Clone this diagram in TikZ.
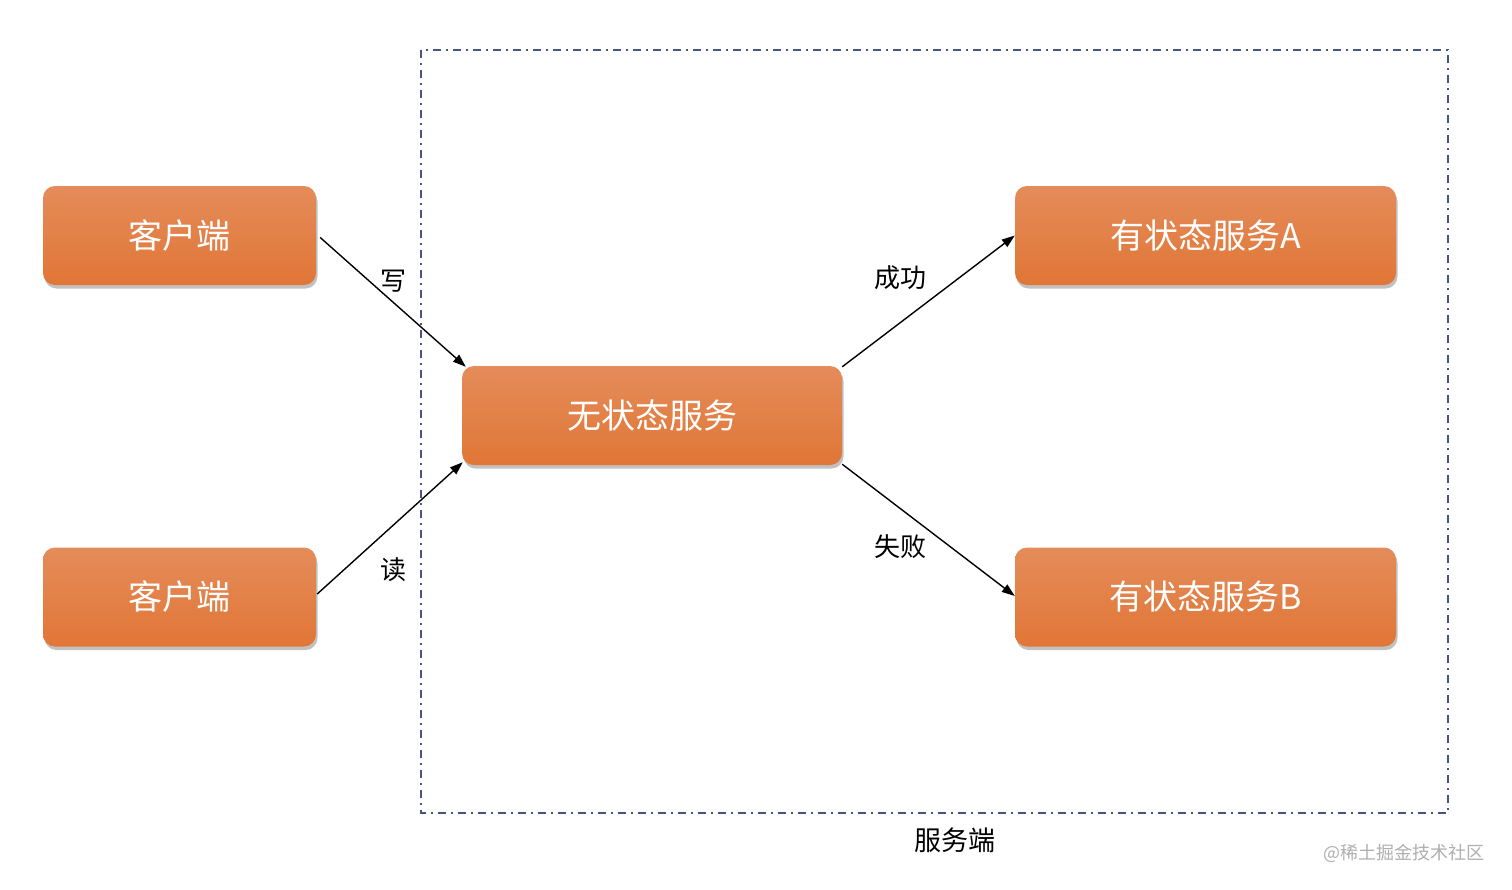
\documentclass[tikz,border=0pt]{standalone}
\usepackage{fontspec}
\setmainfont{Noto Sans CJK SC}
\usetikzlibrary{shadows,arrows.meta,calc}
\definecolor{boxtop}{RGB}{228,140,90}
\definecolor{boxbot}{RGB}{225,118,54}
\definecolor{frame}{RGB}{70,84,130}
\definecolor{wm}{RGB}{175,175,175}
\tikzset{
  svc/.style={rounded corners=12pt, top color=boxtop, bottom color=boxbot,
    draw=none, text=white, font=\fontsize{34}{38}\selectfont,
    minimum height=99pt, inner sep=0pt,
    drop shadow={shadow xshift=1.5pt, shadow yshift=-3.5pt, opacity=0.3, fill=black!80}},
  conn/.style={line width=1.4pt, -{Triangle[length=13pt,width=9pt]}},
  lbl/.style={font=\fontsize{26}{30}\selectfont, text=black},
}
\begin{document}
\begin{tikzpicture}[x=1pt,y=-1pt]
\path[use as bounding box, fill=white] (0,0) rectangle (1512,889);
% service frame
\draw[frame, line width=1.3pt, dash pattern=on 8pt off 5pt on 2pt off 5pt] (421,50) rectangle (1448,813);
\node[lbl, font=\fontsize{27}{31}\selectfont] (srv) at (955,840) {服务端};
% nodes
\node[svc, minimum width=273pt] (c1) at (179.5,235.5) {客户端};
\node[svc, minimum width=273pt] (c2) at (179.5,597) {客户端};
\node[svc, minimum width=380pt] (s) at (652,415.5) {无状态服务};
\node[svc, minimum width=381pt] (a) at (1205.5,235.5) {有状态服务A};
\node[svc, minimum width=381pt] (b) at (1205.5,597) {有状态服务B};
% connectors
\coordinate (w1) at ($(c1.east)+(4,2)$);
\coordinate (w2) at ($(s.north west)+(4,1)$);
\draw[conn] (w1) -- (w2);
\coordinate (r1) at ($(c2.east)+(1,-3)$);
\coordinate (r2) at ($(s.south west)+(1,-3)$);
\draw[conn] (r1) -- (r2);
\coordinate (o1) at ($(s.north east)+(0,1)$);
\coordinate (o2) at ($(a.west)+(0,0)$);
\draw[conn] (o1) -- (o2);
\coordinate (f1) at ($(s.south east)+(0,-1)$);
\coordinate (f2) at ($(b.west)+(0,-1)$);
\draw[conn] (f1) -- (f2);
% labels
\node[lbl] (lw) at (393,281) {写};
\node[lbl] (lr) at (393,570) {读};
\node[lbl] (lo) at (900,278) {成功};
\node[lbl] (lf) at (900,547) {失败};
% watermark
\node[text=wm, font=\fontsize{18}{21}\selectfont, anchor=east] (wmk) at (1488,853) {@稀土掘金技术社区};
\end{tikzpicture}
\end{document}
